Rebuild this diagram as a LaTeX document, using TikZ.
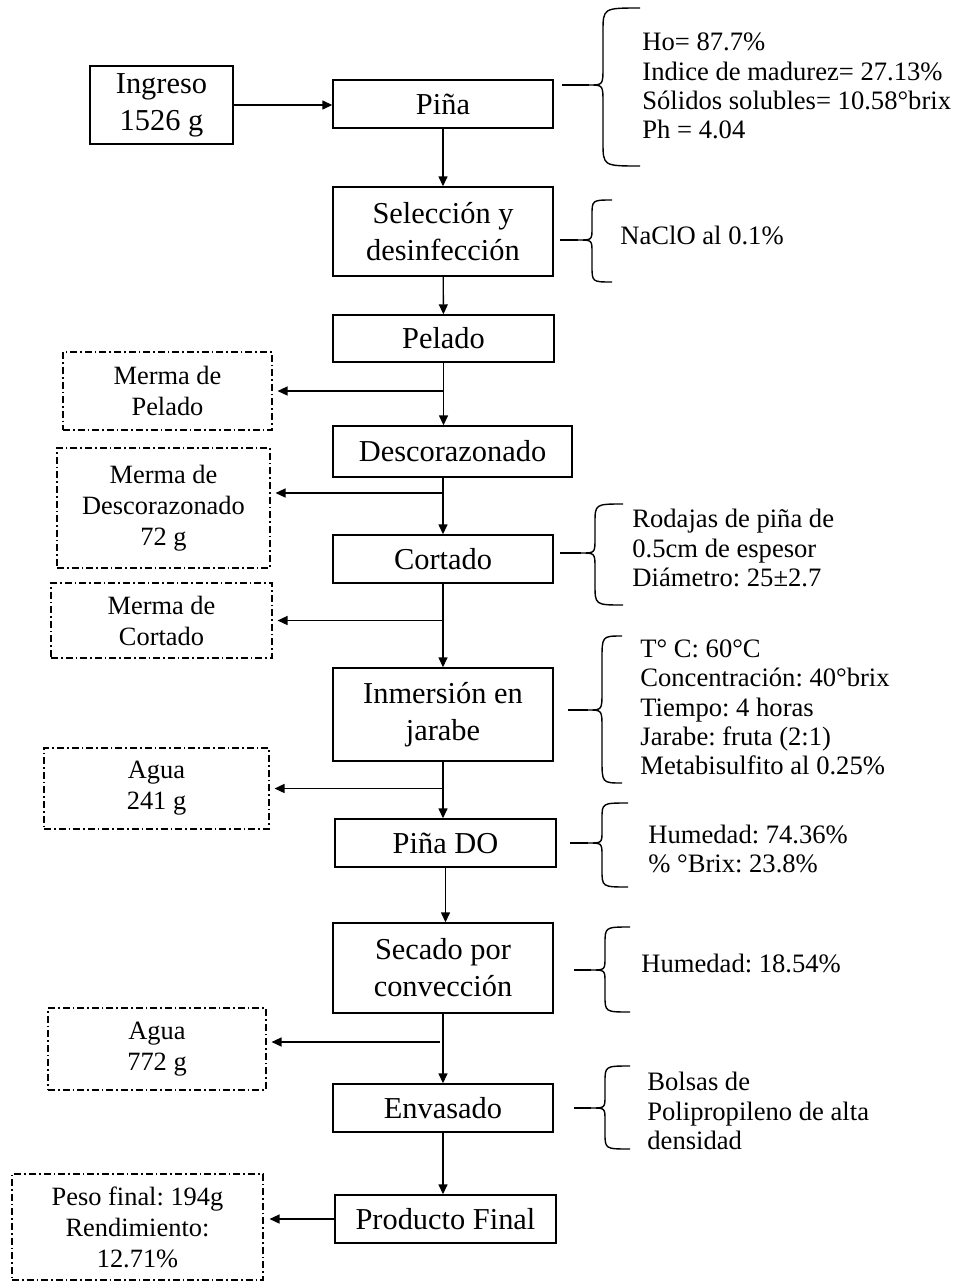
\documentclass[tikz,border=0pt]{standalone}
\usepackage{fontspec}
\setmainfont{Liberation Serif}
\usetikzlibrary{arrows.meta}

% llave: {arriba}{abajo}{medio}{lomo}{punta}{izquierda}
\newcommand{\llave}[6]{%
  \draw[llavelinea] (#5,#1) .. controls (#4,#1) .. (#4,{#1+min(24,0.4*(#3-#1))})
    -- (#4,{#3-min(18,0.3*(#3-#1))})
    .. controls (#4,#3) .. (#4-14,#3) .. controls (#4,#3) .. (#4,{#3+min(18,0.3*(#2-#3))})
    -- (#4,{#2-min(24,0.4*(#2-#3))}) .. controls (#4,#2) .. (#5,#2);
  \draw[llavelinea] (#6,#3) -- (#4-14,#3);}

\begin{document}
\frenchspacing
\begin{tikzpicture}[x=0.5pt, y=-0.5pt,
  proc/.style = {draw, line width=0.7pt, inner sep=0pt, align=center,
    minimum width=110pt, minimum height=24pt,
    font=\fontsize{15.2}{18.5}\selectfont},
  merma/.style = {draw, line width=0.55pt, inner sep=0pt, align=center,
    dash pattern=on 3.5pt off 1.5pt on 0.8pt off 1.5pt,
    font=\fontsize{13.2}{15.5}\selectfont},
  nota/.style = {anchor=west, inner sep=0pt, align=left,
    font=\fontsize{13.3}{14.6}\selectfont},
  flecha/.style = {line width=0.7pt, -{Triangle[length=5pt, width=4.5pt]}},
  llavelinea/.style = {line width=0.7pt}]
  \useasboundingbox (0,0) rectangle (956,1281);

  % cadena principal
  \node[proc] (pina) at (443,104) {Piña};
  \node[proc, minimum width=71.5pt, minimum height=39pt] (ingreso) at (161.5,105) {Ingreso\\1526 g};
  \node[proc, minimum height=44.5pt] (seleccion) at (443,231.5) {Selección y\\desinfección};
  \node[proc, minimum width=110.5pt, minimum height=23.5pt] (pelado) at (443.5,338.5) {Pelado};
  \node[proc, minimum width=119.5pt, minimum height=25.5pt] (descor) at (452.5,451.5) {Descorazonado};
  \node[proc] (cortado) at (443,559) {Cortado};
  \node[proc, minimum height=46.5pt] (inmersion) at (443,714.5) {Inmersión en\\jarabe};
  \node[proc, minimum width=110.5pt] (pinado) at (445.5,843) {Piña DO};
  \node[proc, minimum height=45pt] (secado) at (443,968) {Secado por\\convección};
  \node[proc] (envasado) at (443,1108) {Envasado};
  \node[proc, minimum width=110.5pt] (producto) at (445.5,1219) {Producto Final};

  % mermas y salidas
  \node[merma, minimum width=104.5pt, minimum height=39pt] (mpelado) at (167.5,391) {Merma de\\Pelado};
  \node[merma, minimum width=106.5pt, minimum height=60pt] (mdescor) at (163.5,508) {Merma de\\Descorazonado\\72 g};
  \node[merma, minimum width=110.5pt, minimum height=37.5pt] (mcortado) at (161.5,620.5) {Merma de\\Cortado};
  \node[merma, minimum width=112.5pt, minimum height=40.5pt] (agua1) at (156.5,788.5) {Agua\\241 g};
  \node[merma, minimum width=109pt, minimum height=41pt] (agua2) at (157,1049) {Agua\\772 g};
  \node[merma, minimum width=125.5pt, minimum height=53pt] (peso) at (137.5,1227) {Peso final: 194g\\Rendimiento:\\12.71\%};

  % notas
  \node[nota] (npina) at (642,86) {Ho= 87.7\%\\Indice de madurez= 27.13\%\\Sólidos solubles= 10.58°brix\\Ph = 4.04};
  \node[nota] (nsel) at (620,235) {NaClO al 0.1\%};
  \node[nota] (ncort) at (632,548) {Rodajas de piña de\\0.5cm de espesor\\Diámetro: 25±2.7};
  \node[nota] (ninm) at (640,707.5) {T° C: 60°C\\Concentración: 40°brix\\Tiempo: 4 horas\\Jarabe: fruta (2:1)\\Metabisulfito al 0.25\%};
  \node[nota] (npdo) at (648,849) {Humedad: 74.36\%\\\% °Brix: 23.8\%};
  \node[nota] (nsec) at (641,963) {Humedad: 18.54\%};
  \node[nota] (nenv) at (647,1111) {Bolsas de\\Polipropileno de alta\\densidad};

  \coordinate (b1) at (440,1042);
  \coordinate (b2) at (443,493);

  % flechas
  \draw[flecha] (ingreso.east) -- (ingreso.east -| pina.west);
  \draw[flecha] (pina) -- (seleccion);
  \draw[flecha] (seleccion) -- (pelado);
  \draw[flecha] (pelado.south) -- (pelado.south |- descor.north);
  \draw[flecha] (cortado.north |- descor.south) -- (cortado.north);
  \draw[flecha] (cortado) -- (inmersion);
  \draw[flecha] (inmersion) -- (inmersion.south |- pinado.north);
  \draw[flecha] (pinado.south) -- (pinado.south |- secado.north);
  \draw[flecha] (secado) -- (envasado);
  \draw[flecha] (envasado.south) -- (envasado.south |- producto.north);

  \draw[flecha, shorten >=2.5pt] (pelado.south |- mpelado.east) -- (mpelado.east);
  \draw[flecha, shorten >=2.5pt] (b2) -- (b2 -| mdescor.east);
  \draw[flecha, shorten >=2.5pt] (cortado.south |- mcortado.east) -- (mcortado.east);
  \draw[flecha, shorten >=2.5pt] (inmersion.south |- agua1.east) -- (agua1.east);
  \draw[flecha, shorten >=2.5pt] (b1) -- (b1 -| agua2.east);
  \draw[flecha, shorten >=3pt] (producto.west) -- (producto.west -| peso.east);

  % llaves
  \llave{8}{166}{85}{603}{640}{562}
  \llave{200}{282}{240}{592}{612}{560}
  \llave{504}{605}{553}{595}{623}{560}
  \llave{636}{783}{710}{602}{622}{568}
  \llave{803}{887}{843}{602}{628}{570}
  \llave{927}{1012}{970}{605}{630}{574}
  \llave{1066}{1149}{1108}{605}{630}{574}
\end{tikzpicture}
\end{document}
